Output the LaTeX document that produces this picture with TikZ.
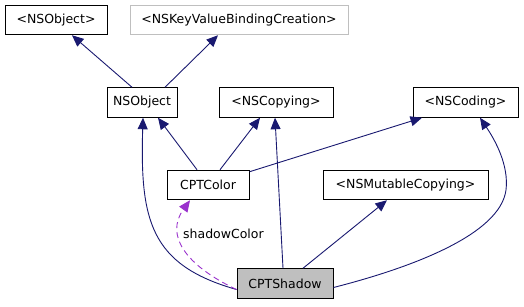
\documentclass[tikz,border=0pt]{standalone}
\usepackage{fontspec}
\setmainfont{DejaVu Sans}
\usetikzlibrary{arrows.meta}

\definecolor{edgeblue}{HTML}{191970}
\definecolor{usepurple}{HTML}{9A32CD}
\definecolor{boxgray}{HTML}{BFBFBF}

\begin{document}
\begin{tikzpicture}[x=1pt, y=-1pt,
		every node/.style={font=\fontsize{12.5}{15}\selectfont, inner sep=0pt},
		cls/.style={draw=black, line width=1pt, minimum height=29.5pt},
		inh/.style={->, >={Triangle[length=11.5pt,width=10pt]}, draw=edgeblue, line width=0.9pt},
		usage/.style={->, >={Triangle[length=11.5pt,width=10pt]}, draw=usepurple, line width=0.9pt, dash pattern=on 6pt off 4pt}]
		\useasboundingbox (0,0) rectangle (524,307);

		% Création des nœuds
		\node[cls, minimum width=102pt] (protoobj) at (56,20) {<NSObject>};
		\node[cls, draw=boxgray, minimum width=218pt] (kvbc) at (239,20) {<NSKeyValueBindingCreation>};
		\node[cls, minimum width=70pt] (nsobject) at (142,102.5) {NSObject};
		\node[cls, minimum width=114pt] (copying) at (276,102.5) {<NSCopying>};
		\node[cls, minimum width=105pt] (coding) at (465.5,102.5) {<NSCoding>};
		\node[cls, minimum width=82pt] (color) at (208,185) {CPTColor};
		\node[cls, minimum width=165pt] (mutcopy) at (405.5,185) {<NSMutableCopying>};
		\node[cls, fill=boxgray, minimum width=96pt] (shadow) at (285,283.5) {CPTShadow};

		% Héritage et protocoles
		\draw[inh] ([xshift=-10pt]nsobject.north) -- ([xshift=16pt]protoobj.south);
		\draw[inh] ([xshift=23pt]nsobject.north) -- ([xshift=-21pt]kvbc.south);
		\draw[inh] ([xshift=-11pt]color.north) -- ([xshift=16pt]nsobject.south);
		\draw[inh] ([xshift=12pt]color.north) -- ([xshift=-16pt]copying.south);
		\draw[inh] ([yshift=-2pt]color.north east) -- ([xshift=-43.5pt]coding.south);
		\draw[inh] ([yshift=-6pt]shadow.west) .. controls (150,265) and (140,220) .. ([xshift=1pt]nsobject.south);
		\draw[inh] ([xshift=-2pt]shadow.north) -- ([xshift=-1pt]copying.south);
		\draw[inh] ([xshift=18pt]shadow.north) -- ([xshift=-18.5pt]mutcopy.south);
		\draw[inh] ([yshift=-4pt]shadow.east) .. controls (410,268) and (500,235) .. (506,190)
			.. controls (509,165) and (495,140) .. ([xshift=14.5pt]coding.south);

		% Attribut
		\draw[usage] ([yshift=-6pt]shadow.west) .. controls (185,265) and (165,235) .. ([xshift=-18pt]color.south);
		\node[anchor=west] (lbl) at (183,234) {shadowColor};
	\end{tikzpicture}
\end{document}
